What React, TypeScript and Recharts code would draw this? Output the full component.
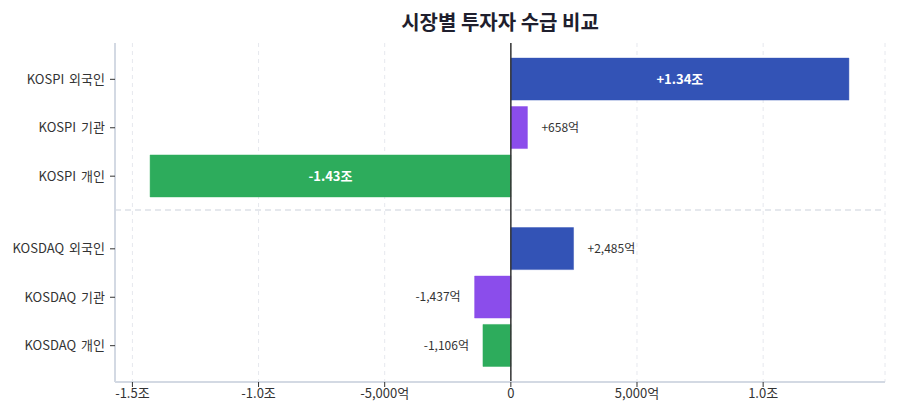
import { Bar, BarChart, CartesianGrid, Cell, LabelList, ReferenceLine, XAxis, YAxis } from 'recharts'

// 순매수 금액 (단위: 억원)
const markets = ['KOSPI', 'KOSPI', 'KOSPI', 'KOSDAQ', 'KOSDAQ', 'KOSDAQ']
const investors = ['외국인', '기관', '개인', '외국인', '기관', '개인']
const rowSlots = [0, 1, 2, 3.5, 4.5, 5.5]
const netBuy = [13400, 658, -14300, 2485, -1437, -1106]
const xTicks = [-15000, -10000, -5000, 0, 5000, 10000]

const investorColor: Record<string, string> = {
  외국인: '#3353b6',
  기관: '#8b4deb',
  개인: '#2dac5c',
}

const data = netBuy.map((value, i) => ({
  name: `${markets[i]} ${investors[i]}`,
  investor: investors[i],
  slot: rowSlots[i],
  value,
}))

const font = '"Noto Sans CJK KR", "Noto Sans", sans-serif'

const fmtAxis = (v: number) => {
  if (v === 0) return '0'
  if (Math.abs(v) >= 10000) return `${(v / 10000).toFixed(1)}조`
  return `${v.toLocaleString('en-US')}억`
}

const fmtValue = (v: number) => {
  const sign = v > 0 ? '+' : '-'
  const a = Math.abs(v)
  if (a >= 10000) return `${sign}${(a / 10000).toFixed(2)}조`
  return `${sign}${a.toLocaleString('en-US')}억`
}

const slotLabel = (s: number) => {
  const i = rowSlots.indexOf(s)
  return i >= 0 ? `${markets[i]} ${investors[i]}` : ''
}

const RowTick = (props: any) => {
  const { x, y, payload } = props
  return (
    <text x={x - 3} y={y} dy="0.35em" textAnchor="end" fill="#333" fontSize={13} fontFamily={font} wordSpacing={2}>
      {slotLabel(payload.value)}
    </text>
  )
}

const ValueLabel = (props: any) => {
  const { x, y, width, height, value } = props
  const left = Math.min(x, x + width)
  const right = Math.max(x, x + width)
  const cy = y + height / 2
  if (Math.abs(value) >= 5000) {
    return (
      <text x={(left + right) / 2} y={cy} dy="0.35em" textAnchor="middle" fill="#fff" fontSize={13} fontWeight={700} fontFamily={font}>
        {fmtValue(value)}
      </text>
    )
  }
  const pos = value >= 0
  return (
    <text x={pos ? right + 14 : left - 14} y={cy} dy="0.35em" textAnchor={pos ? 'start' : 'end'} fill="#333" fontSize={12} fontFamily={font}>
      {fmtValue(value)}
    </text>
  )
}

export default function App() {
  return (
    <div style={{ position: 'relative', width: 900, height: 420, background: '#fff', fontFamily: font }}>
      <style>{'body{margin:0}'}</style>
      <div style={{ position: 'absolute', top: 8, left: 100, width: 800, textAlign: 'center', fontSize: 20, fontWeight: 700, color: '#1f1f2e', lineHeight: '28px' }}>
        시장별 투자자 수급 비교
      </div>
      <BarChart width={900} height={420} data={data} layout="vertical" margin={{ top: 43, right: 15, left: 0, bottom: 8 }}>
        <CartesianGrid horizontal={false} strokeDasharray="4 4" stroke="#e6e8ee" />
        <XAxis
          type="number"
          dataKey="value"
          domain={[-15690, 14830]}
          ticks={xTicks}
          interval={0}
          tickFormatter={fmtAxis}
          axisLine={{ stroke: '#d3d9e3', strokeWidth: 2 }}
          tickLine={{ stroke: '#333' }}
          tickSize={5}
          height={30}
          tick={{ fill: '#333', fontSize: 13, fontFamily: font }}
        />
        <YAxis
          type="number"
          dataKey="slot"
          domain={[-0.75, 6.25]}
          ticks={rowSlots}
          interval={0}
          axisLine={{ stroke: '#d3d9e3', strokeWidth: 2 }}
          tickLine={{ stroke: '#333' }}
          tickSize={5}
          width={115}
          tick={<RowTick />}
        />
        <ReferenceLine y={2.7} stroke="#dde1e8" strokeDasharray="6 4" strokeWidth={1.5} />
        <ReferenceLine x={0} stroke="#333" strokeWidth={1.5} />
        <Bar dataKey="value" barSize={42} isAnimationActive={false}>
          {data.map((d) => (
            <Cell key={d.name} fill={investorColor[d.investor]} stroke={investorColor[d.investor]} strokeOpacity={0.45} />
          ))}
          <LabelList dataKey="value" content={ValueLabel} />
        </Bar>
      </BarChart>
    </div>
  )
}
